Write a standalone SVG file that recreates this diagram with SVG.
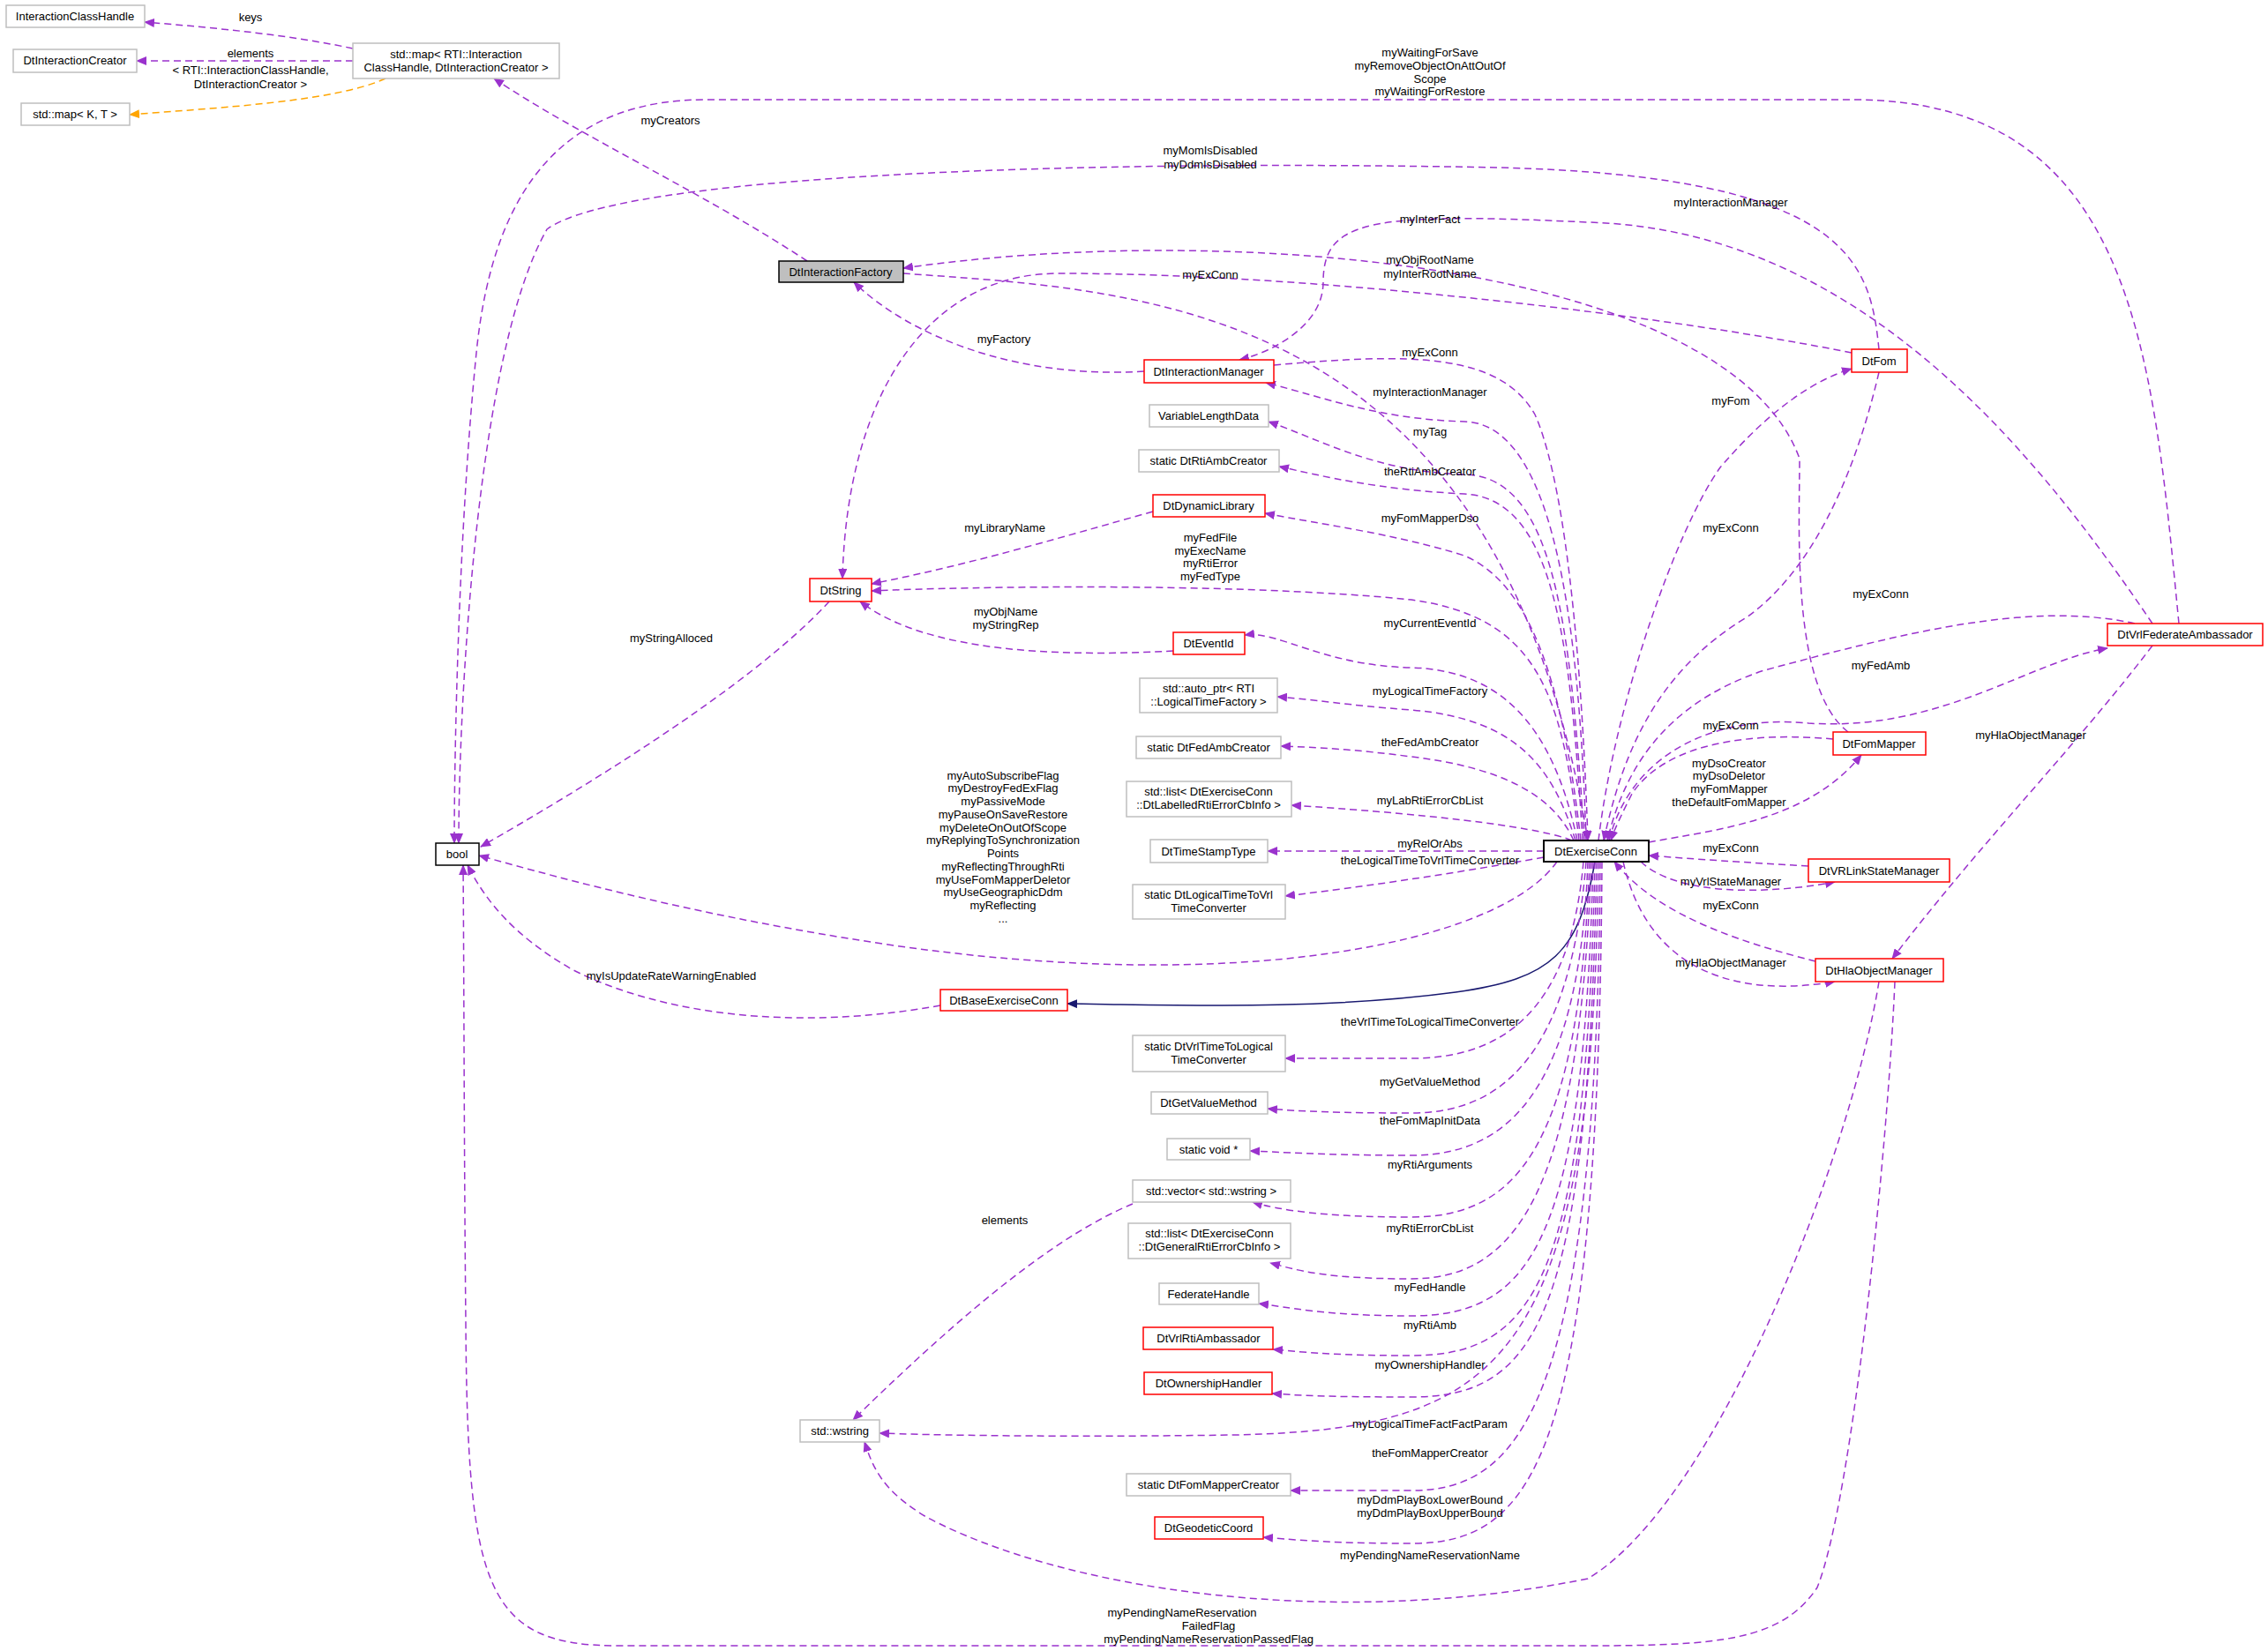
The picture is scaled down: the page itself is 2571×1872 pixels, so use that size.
<svg xmlns="http://www.w3.org/2000/svg" width="2571" height="1872" viewBox="0 0 2571 1872">
<style>
text{font-family:"Liberation Sans",Arial,sans-serif;font-size:13px;fill:#000}
.n text{text-anchor:middle}
.g{fill:#fff;stroke:#bfbfbf;stroke-width:1.5}
.r{fill:#fff;stroke:#ff0000;stroke-width:1.5}
.k{fill:#fff;stroke:#000;stroke-width:1.5}
.e path{fill:none;stroke:#9a32cd;stroke-width:1.5;stroke-dasharray:8,5;marker-end:url(#ap)}
.e path.o{stroke:#ffa500;marker-end:url(#ao)}
.e path.s{stroke:#191970;stroke-dasharray:none;marker-end:url(#an)}
.l text{text-anchor:middle}
</style>
<defs>
<marker id="ap" markerWidth="12" markerHeight="10" refX="11" refY="5" orient="auto" markerUnits="userSpaceOnUse"><path d="M0,0 L12,5 L0,10 z" fill="#9a32cd"/></marker>
<marker id="ao" markerWidth="12" markerHeight="10" refX="11" refY="5" orient="auto" markerUnits="userSpaceOnUse"><path d="M0,0 L12,5 L0,10 z" fill="#ffa500"/></marker>
<marker id="an" markerWidth="12" markerHeight="10" refX="11" refY="5" orient="auto" markerUnits="userSpaceOnUse"><path d="M0,0 L12,5 L0,10 z" fill="#191970"/></marker>
</defs>
<rect width="2571" height="1872" fill="#fff"/>
<g class="e" id="edges">
<path d="M400,55 C330,40 250,32 164,25"/>
<path d="M400,69 L155,69"/>
<path class="o" d="M437,89 C380,115 250,122 147,130"/>
<path d="M915,296 C800,220 650,150 560,89"/>
<path d="M1024,310 C1300,330 1700,340 1800,953"/>
<path d="M2095,830 C2030,780 2040,600 2040,520 C1960,300 1400,250 1024,304"/>
<path d="M2440,707 C2300,500 2100,260 1800,252 C1550,240 1500,250 1500,320 C1500,370 1440,400 1405,408"/>
<path d="M2130,396 C2120,300 2100,200 1700,190 C1200,180 700,200 620,260 C540,400 520,800 520,956"/>
<path d="M2470,707 C2440,400 2420,113 2100,113 L800,113 C650,113 560,200 540,400 C520,600 515,850 515,956"/>
<path d="M2099,400 C1900,360 1500,310 1200,310 C1050,310 960,450 955,656"/>
<path d="M1297,421 C1150,430 1030,380 968,320"/>
<path d="M1444,414 C1600,400 1700,400 1740,470 C1780,560 1795,800 1800,953"/>
<path d="M1798,953 C1790,700 1760,480 1660,478 C1560,475 1500,450 1435,434"/>
<path d="M1796,953 C1780,700 1760,540 1660,538 C1560,535 1500,500 1438,478"/>
<path d="M1794,953 C1780,720 1760,565 1660,560 C1560,555 1500,540 1450,529"/>
<path d="M1792,953 C1770,760 1730,660 1660,630 C1580,605 1500,595 1434,582"/>
<path d="M1307,580 C1200,610 1100,640 988,662"/>
<path d="M1790,953 C1770,780 1740,700 1600,680 C1400,660 1100,665 988,670"/>
<path d="M1330,738 C1200,745 1050,740 975,682"/>
<path d="M1788,953 C1760,820 1700,760 1600,757 C1500,755 1450,715 1411,720"/>
<path d="M1786,953 C1760,870 1720,815 1600,805 C1530,800 1480,792 1448,790"/>
<path d="M1784,953 C1760,900 1700,870 1600,858 C1540,850 1490,847 1452,846"/>
<path d="M1782,953 C1750,940 1650,925 1464,913"/>
<path d="M1750,965 L1437,965"/>
<path d="M1750,972 C1650,990 1550,1005 1457,1016"/>
<path d="M1765,977 C1700,1070 1400,1130 1000,1070 C800,1040 650,1000 543,970"/>
<path class="s" d="M1808,977 C1790,1080 1760,1110 1650,1125 C1500,1145 1350,1140 1210,1138"/>
<path d="M1066,1140 C900,1170 750,1150 650,1100 C580,1060 550,1020 530,981"/>
<path d="M940,682 C850,780 650,900 545,960"/>
<path d="M1795,977 C1780,1150 1700,1200 1600,1200 C1520,1200 1480,1200 1457,1200"/>
<path d="M1798,977 C1780,1200 1700,1262 1600,1262 C1520,1262 1470,1260 1437,1257"/>
<path d="M1800,977 C1790,1250 1700,1310 1600,1310 C1500,1310 1450,1306 1417,1305"/>
<path d="M1802,977 C1790,1300 1720,1380 1600,1380 C1500,1380 1450,1372 1420,1363"/>
<path d="M1804,977 C1790,1350 1720,1450 1600,1450 C1500,1450 1470,1440 1440,1432"/>
<path d="M1806,977 C1795,1400 1740,1492 1600,1492 C1500,1492 1460,1482 1427,1478"/>
<path d="M1808,977 C1798,1450 1740,1537 1600,1537 C1500,1537 1470,1532 1443,1530"/>
<path d="M1810,977 C1800,1500 1740,1584 1600,1584 C1500,1584 1470,1582 1442,1580"/>
<path d="M1812,977 C1805,1550 1700,1620 1400,1627 C1200,1630 1050,1627 997,1625"/>
<path d="M1814,977 C1810,1600 1720,1690 1600,1690 C1520,1690 1490,1690 1463,1690"/>
<path d="M1816,977 C1812,1650 1740,1750 1600,1750 C1500,1750 1460,1745 1432,1743"/>
<path d="M2130,1113 C2100,1300 1950,1700 1800,1790 C1500,1850 1200,1800 1050,1720 C1000,1690 990,1665 980,1635"/>
<path d="M1284,1365 C1200,1400 1100,1480 967,1610"/>
<path d="M2148,1113 C2140,1300 2100,1700 2060,1800 C2020,1860 1950,1866 1800,1866 L700,1866 C550,1866 530,1800 528,1500 C526,1300 526,1100 525,981"/>
<path d="M1812,953 C1830,800 1900,600 1950,530 C2010,460 2060,430 2099,418"/>
<path d="M2130,422 C2100,550 2050,650 1980,700 C1880,760 1840,850 1818,953"/>
<path d="M2420,707 C2300,680 2150,720 2000,760 C1880,800 1840,880 1822,953"/>
<path d="M1824,953 C1850,850 1950,810 2050,820 C2200,830 2300,750 2389,735"/>
<path d="M2440,732 C2350,850 2250,950 2145,1087"/>
<path d="M2078,838 C1990,830 1890,840 1850,900 C1840,920 1830,940 1826,953"/>
<path d="M1869,955 C1950,940 2050,930 2110,856"/>
<path d="M2050,982 C1980,978 1920,974 1869,970"/>
<path d="M1860,977 C1900,1015 2000,1015 2080,1000"/>
<path d="M2058,1090 C1980,1070 1880,1040 1830,977"/>
<path d="M1840,977 C1870,1110 1980,1130 2080,1113"/>
</g>
<g class="l" id="labels">
<text x="284" y="24">keys</text>
<text x="284" y="65">elements</text>
<text x="284" y="84">&lt; RTI::InteractionClassHandle,</text>
<text x="284" y="100">DtInteractionCreator &gt;</text>
<text x="760" y="141">myCreators</text>
<text x="1621" y="64">myWaitingForSave</text>
<text x="1621" y="79">myRemoveObjectOnAttOutOf</text>
<text x="1621" y="94">Scope</text>
<text x="1621" y="108">myWaitingForRestore</text>
<text x="1372" y="175">myMomIsDisabled</text>
<text x="1372" y="191">myDdmIsDisabled</text>
<text x="1962" y="234">myInteractionManager</text>
<text x="1621" y="253">myInterFact</text>
<text x="1621" y="299">myObjRootName</text>
<text x="1621" y="315">myInterRootName</text>
<text x="1372" y="316">myExConn</text>
<text x="1138" y="389">myFactory</text>
<text x="1621" y="404">myExConn</text>
<text x="1621" y="449">myInteractionManager</text>
<text x="1962" y="459">myFom</text>
<text x="1621" y="494">myTag</text>
<text x="1621" y="539">theRtiAmbCreator</text>
<text x="1621" y="592">myFomMapperDso</text>
<text x="1139" y="603">myLibraryName</text>
<text x="1962" y="603">myExConn</text>
<text x="1372" y="614">myFedFile</text>
<text x="1372" y="629">myExecName</text>
<text x="1372" y="643">myRtiError</text>
<text x="1372" y="658">myFedType</text>
<text x="2132" y="678">myExConn</text>
<text x="1140" y="698">myObjName</text>
<text x="1140" y="713">myStringRep</text>
<text x="1621" y="711">myCurrentEventId</text>
<text x="761" y="728">myStringAlloced</text>
<text x="2132" y="759">myFedAmb</text>
<text x="1621" y="788">myLogicalTimeFactory</text>
<text x="1962" y="827">myExConn</text>
<text x="2302" y="838">myHlaObjectManager</text>
<text x="1621" y="846">theFedAmbCreator</text>
<text x="1960" y="870">myDsoCreator</text>
<text x="1960" y="884">myDsoDeletor</text>
<text x="1960" y="899">myFomMapper</text>
<text x="1960" y="914">theDefaultFomMapper</text>
<text x="1137" y="884">myAutoSubscribeFlag</text>
<text x="1137" y="898">myDestroyFedExFlag</text>
<text x="1137" y="913">myPassiveMode</text>
<text x="1137" y="928">myPauseOnSaveRestore</text>
<text x="1137" y="943">myDeleteOnOutOfScope</text>
<text x="1137" y="957">myReplyingToSynchronization</text>
<text x="1137" y="972">Points</text>
<text x="1137" y="987">myReflectingThroughRti</text>
<text x="1137" y="1002">myUseFomMapperDeletor</text>
<text x="1137" y="1016">myUseGeographicDdm</text>
<text x="1137" y="1031">myReflecting</text>
<text x="1137" y="1046">...</text>
<text x="1621" y="912">myLabRtiErrorCbList</text>
<text x="1621" y="961">myRelOrAbs</text>
<text x="1962" y="966">myExConn</text>
<text x="1621" y="980">theLogicalTimeToVrlTimeConverter</text>
<text x="1962" y="1004">myVrlStateManager</text>
<text x="1962" y="1031">myExConn</text>
<text x="1962" y="1096">myHlaObjectManager</text>
<text x="761" y="1111">myIsUpdateRateWarningEnabled</text>
<text x="1621" y="1163">theVrlTimeToLogicalTimeConverter</text>
<text x="1621" y="1231">myGetValueMethod</text>
<text x="1621" y="1275">theFomMapInitData</text>
<text x="1621" y="1325">myRtiArguments</text>
<text x="1139" y="1388">elements</text>
<text x="1621" y="1397">myRtiErrorCbList</text>
<text x="1621" y="1464">myFedHandle</text>
<text x="1621" y="1507">myRtiAmb</text>
<text x="1621" y="1552">myOwnershipHandler</text>
<text x="1621" y="1619">myLogicalTimeFactFactParam</text>
<text x="1621" y="1652">theFomMapperCreator</text>
<text x="1621" y="1705">myDdmPlayBoxLowerBound</text>
<text x="1621" y="1720">myDdmPlayBoxUpperBound</text>
<text x="1621" y="1768">myPendingNameReservationName</text>
<text x="1340" y="1833">myPendingNameReservation</text>
<text x="1370" y="1848">FailedFlag</text>
<text x="1370" y="1863">myPendingNameReservationPassedFlag</text>
</g>
<g class="n" id="n_ich"><rect class="g" x="7" y="6" width="157" height="25"/><text x="85" y="23">InteractionClassHandle</text></g>
<g class="n" id="n_dic"><rect class="g" x="15" y="56" width="140" height="26"/><text x="85" y="73">DtInteractionCreator</text></g>
<g class="n" id="n_mapkt"><rect class="g" x="24" y="117" width="123" height="25"/><text x="85" y="134">std::map&lt; K, T &gt;</text></g>
<g class="n" id="n_map"><rect class="g" x="400" y="49" width="234" height="40"/><text x="517" y="66">std::map&lt; RTI::Interaction</text><text x="517" y="81">ClassHandle, DtInteractionCreator &gt;</text></g>
<g class="n" id="n_dif"><rect x="883" y="296" width="141" height="24" fill="#bfbfbf" stroke="#000" stroke-width="1.5"/><text x="953" y="313">DtInteractionFactory</text></g>
<g class="n" id="n_bool"><rect class="k" x="494" y="956" width="49" height="25"/><text x="518" y="973">bool</text></g>
<g class="n" id="n_dtstring"><rect class="r" x="918" y="656" width="70" height="26"/><text x="953" y="674">DtString</text></g>
<g class="n" id="n_dim"><rect class="r" x="1297" y="408" width="147" height="26"/><text x="1370" y="426">DtInteractionManager</text></g>
<g class="n" id="n_vld"><rect class="g" x="1303" y="459" width="135" height="25"/><text x="1370" y="476">VariableLengthData</text></g>
<g class="n" id="n_rac"><rect class="g" x="1291" y="510" width="159" height="25"/><text x="1370" y="527">static DtRtiAmbCreator</text></g>
<g class="n" id="n_ddl"><rect class="r" x="1307" y="561" width="127" height="25"/><text x="1370" y="578">DtDynamicLibrary</text></g>
<g class="n" id="n_evid"><rect class="r" x="1330" y="717" width="81" height="25"/><text x="1370" y="734">DtEventId</text></g>
<g class="n" id="n_autoptr"><rect class="g" x="1292" y="769" width="156" height="39"/><text x="1370" y="785">std::auto_ptr&lt; RTI</text><text x="1370" y="800">::LogicalTimeFactory &gt;</text></g>
<g class="n" id="n_fac"><rect class="g" x="1288" y="835" width="164" height="25"/><text x="1370" y="852">static DtFedAmbCreator</text></g>
<g class="n" id="n_lablist"><rect class="g" x="1277" y="886" width="187" height="40"/><text x="1370" y="902">std::list&lt; DtExerciseConn</text><text x="1370" y="917">::DtLabelledRtiErrorCbInfo &gt;</text></g>
<g class="n" id="n_tst"><rect class="g" x="1304" y="952" width="133" height="26"/><text x="1370" y="970">DtTimeStampType</text></g>
<g class="n" id="n_lt2v"><rect class="g" x="1284" y="1003" width="173" height="39"/><text x="1370" y="1019">static DtLogicalTimeToVrl</text><text x="1370" y="1034">TimeConverter</text></g>
<g class="n" id="n_exconn"><rect x="1750" y="953" width="119" height="24" fill="#fff" stroke="#000" stroke-width="2"/><text x="1809" y="970">DtExerciseConn</text></g>
<g class="n" id="n_base"><rect class="r" x="1066" y="1122" width="144" height="24"/><text x="1138" y="1139">DtBaseExerciseConn</text></g>
<g class="n" id="n_v2lt"><rect class="g" x="1284" y="1174" width="173" height="41"/><text x="1370" y="1191">static DtVrlTimeToLogical</text><text x="1370" y="1206">TimeConverter</text></g>
<g class="n" id="n_gvm"><rect class="g" x="1305" y="1238" width="132" height="25"/><text x="1370" y="1255">DtGetValueMethod</text></g>
<g class="n" id="n_void"><rect class="g" x="1323" y="1291" width="94" height="24"/><text x="1370" y="1308">static void *</text></g>
<g class="n" id="n_vec"><rect class="g" x="1284" y="1338" width="179" height="25"/><text x="1373" y="1355">std::vector&lt; std::wstring &gt;</text></g>
<g class="n" id="n_genlist"><rect class="g" x="1279" y="1387" width="184" height="40"/><text x="1371" y="1403">std::list&lt; DtExerciseConn</text><text x="1371" y="1418">::DtGeneralRtiErrorCbInfo &gt;</text></g>
<g class="n" id="n_fh"><rect class="g" x="1314" y="1455" width="113" height="24"/><text x="1370" y="1472">FederateHandle</text></g>
<g class="n" id="n_vra"><rect class="r" x="1296" y="1505" width="147" height="25"/><text x="1370" y="1522">DtVrlRtiAmbassador</text></g>
<g class="n" id="n_own"><rect class="r" x="1297" y="1556" width="145" height="25"/><text x="1370" y="1573">DtOwnershipHandler</text></g>
<g class="n" id="n_wstr"><rect class="g" x="907" y="1610" width="90" height="25"/><text x="952" y="1627">std::wstring</text></g>
<g class="n" id="n_fmc"><rect class="g" x="1277" y="1671" width="186" height="25"/><text x="1370" y="1688">static DtFomMapperCreator</text></g>
<g class="n" id="n_geo"><rect class="r" x="1309" y="1720" width="123" height="25"/><text x="1370" y="1737">DtGeodeticCoord</text></g>
<g class="n" id="n_fom"><rect class="r" x="2099" y="396" width="63" height="26"/><text x="2130" y="414">DtFom</text></g>
<g class="n" id="n_vfa"><rect class="r" x="2389" y="707" width="176" height="25"/><text x="2477" y="724">DtVrlFederateAmbassador</text></g>
<g class="n" id="n_fm"><rect class="r" x="2078" y="830" width="105" height="26"/><text x="2130" y="848">DtFomMapper</text></g>
<g class="n" id="n_vrlsm"><rect class="r" x="2050" y="974" width="160" height="26"/><text x="2130" y="992">DtVRLinkStateManager</text></g>
<g class="n" id="n_hla"><rect class="r" x="2058" y="1087" width="145" height="26"/><text x="2130" y="1105">DtHlaObjectManager</text></g>
</svg>
